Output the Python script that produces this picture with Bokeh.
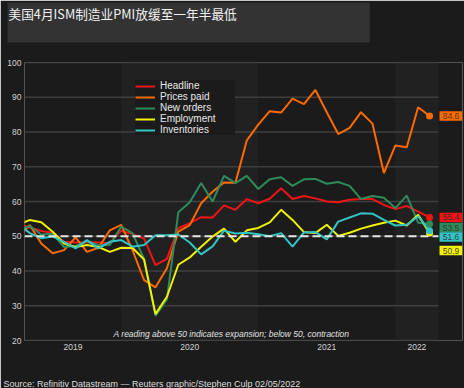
from bokeh.plotting import figure
from bokeh.models import Range1d, FixedTicker, Legend, LegendItem, Title
from bokeh.core.properties import value
from bokeh.embed import file_html
from bokeh.resources import INLINE

# ---------------- data ----------------
title_text = "美国4月ISM制造业PMI放缓至一年半最低"
source_text = "Source: Refinitiv Datastream \u2014 Reuters graphic/Stephen Culp 02/05/2022"
note_text = "A reading above 50 indicates expansion; below 50, contraction"

months = ["2019-04", "2019-05", "2019-06", "2019-07", "2019-08", "2019-09",
          "2019-10", "2019-11", "2019-12",
          "2020-01", "2020-02", "2020-03", "2020-04", "2020-05", "2020-06",
          "2020-07", "2020-08", "2020-09", "2020-10", "2020-11", "2020-12",
          "2021-01", "2021-02", "2021-03", "2021-04", "2021-05", "2021-06",
          "2021-07", "2021-08", "2021-09", "2021-10", "2021-11", "2021-12",
          "2022-01", "2022-02", "2022-03", "2022-04"]

series_names = ["Headline", "Prices paid", "New orders", "Employment", "Inventories"]

headline = [53.6, 52.5, 51.5, 51.0, 48.4, 48.2, 48.3, 48.2, 48.0,
            51.6, 50.6, 49.3, 41.7, 43.5, 52.3, 53.8, 55.5, 55.4, 58.9, 57.6, 60.7,
            59.5, 60.8, 63.8, 60.7, 61.6, 60.9, 60.0, 59.8, 60.5, 60.7, 60.7, 59.0,
            57.8, 58.7, 57.1, 55.4]
prices_paid = [50.0, 53.2, 47.9, 45.1, 46.0, 49.7, 45.5, 46.7, 51.7,
               53.3, 45.9, 37.4, 35.3, 40.8, 51.3, 53.2, 59.5, 62.8, 65.5, 65.4, 77.6,
               82.1, 86.0, 85.6, 89.6, 88.0, 92.1, 85.7, 79.4, 81.2, 85.7, 82.4, 68.2,
               76.1, 75.6, 87.1, 84.6]
new_orders = [52.0, 52.9, 50.5, 50.7, 46.9, 47.2, 48.6, 47.4, 47.5,
              52.8, 50.8, 43.5, 27.1, 31.8, 56.9, 59.8, 65.3, 60.0, 67.4, 65.3, 67.4,
              63.6, 66.4, 67.0, 64.5, 66.4, 66.5, 65.1, 65.6, 64.5, 60.7, 61.6, 61.1,
              58.1, 61.7, 53.9, 53.5]
employment = [53.3, 54.7, 54.0, 51.3, 47.9, 46.9, 47.5, 46.9, 45.5,
              46.7, 46.6, 43.3, 27.6, 32.6, 41.8, 43.9, 47.0, 49.9, 52.2, 48.4, 51.7,
              52.4, 54.0, 57.6, 54.7, 51.2, 50.9, 53.3, 50.1, 51.0, 52.2, 53.1, 53.9,
              54.5, 53.1, 56.2, 50.9]
inventories = [53.4, 50.9, 49.4, 49.9, 48.4, 46.5, 48.9, 46.5, 48.4,
               48.9, 47.0, 47.5, 50.3, 50.3, 50.5, 48.2, 44.8, 47.1, 51.6, 50.8, 51.0,
               50.6, 50.0, 50.9, 47.0, 51.1, 51.2, 49.1, 54.2, 55.4, 56.6, 56.5, 54.7,
               53.1, 53.3, 55.7, 51.6]

y_ticks = [20, 30, 40, 50, 60, 70, 80, 90, 100]
years = [2019, 2020, 2021, 2022]
threshold = 50

# ---------------- styles / layout ----------------
BG = "#1b1b1b"
BAND = "#212121"
GRID = "#3f3f3f"
TXT = "#d2d2d2"
colors = ["#f01414", "#ff6a00", "#2e8c5c", "#f2f200", "#33c4c4"]
series = [headline, prices_paid, new_orders, employment, inventories]

W, H = 464, 388
FRAME_L, FRAME_R = 24, 2
FRAME_W = W - FRAME_L - FRAME_R
FRAME_H = 276.6
PX_PER_MONTH = 11.42


def midx(s):
    y, m = s.split("-")
    return (int(y) - 2019) * 12 + int(m) - 1


xs = [midx(m) for m in months]
x_start = xs[0] + 0.53
grid_end = xs[-1] + 0.78
x_end = x_start + FRAME_W / PX_PER_MONTH
px_per_y = FRAME_H / 80.0

p = figure(width=W, height=H, output_backend="svg", toolbar_location=None,
           title_location=None,
           x_range=Range1d(x_start, x_end), y_range=Range1d(20, 100),
           min_border_left=FRAME_L, min_border_right=FRAME_R,
           min_border_top=0, min_border_bottom=0,
           background_fill_color=BG, border_fill_color=BG, outline_line_color=None)

# ---- top: spacer (next to frame) + title box (outermost)
p.add_layout(Title(text=" ", text_font="Liberation Sans", text_font_size="10px",
                   text_color=BG, standoff=7), "above")
p.add_layout(Title(text=title_text, align="left", offset=-17, standoff=0,
                   text_font="Noto Sans CJK SC", text_font_size="12.7px",
                   text_font_style="normal", text_color="#f2f2f2",
                   background_fill_color="#333333",
                   padding=dict(left=1, right=133, top=1, bottom=20)), "above")

# ---- bottom: axis (auto) + spacer + source line
p.add_layout(Title(text=" ", text_font="Liberation Sans", text_font_size="10px",
                   text_color=BG, standoff=11), "below")
p.add_layout(Title(text=source_text, align="left", offset=-21, standoff=0,
                   text_font="Liberation Sans", text_font_size="9px",
                   text_font_style="normal", text_color="#dedede"), "below")

# year bands
band_l, band_r = [], []
for yr in years:
    lo = max(x_start, (yr - 2019) * 12)
    hi = min(grid_end, (yr - 2019 + 1) * 12)
    if yr % 2 == 0:
        band_l.append(lo)
        band_r.append(hi)
p.quad(left=band_l, right=band_r, bottom=20, top=100, fill_color=BAND, line_color=None)

# gridlines (stop before labels column)
p.segment(x0=[x_start] * len(y_ticks), x1=[grid_end] * len(y_ticks),
          y0=y_ticks, y1=y_ticks, line_color=GRID, line_width=1.6)

renderers = []
for i in range(len(series)):
    r = p.line(xs, series[i], line_color=colors[i], line_width=2)
    renderers.append(r)

# 50 threshold
p.line([x_start, grid_end], [threshold, threshold], line_color="#e6e6e6",
       line_width=2, line_dash="8 4")

# end markers
p.scatter([xs[-1]] * 5, [s[-1] for s in series], size=7, marker="circle",
          fill_color=colors, line_color=None)

# right value labels (nudged apart vertically, in pixels)
label_nudge_px = [0.0, 0.0, 3.4, 17.4, 6.3]  # Headline, Prices, New orders, Employment, Inventories
label_x = x_end - 11.5 / PX_PER_MONTH
label_y = [s[-1] - label_nudge_px[i] / px_per_y for i, s in enumerate(series)]
p.rect(x=[label_x] * 5, y=label_y, width=23, height=9.5, width_units="screen",
       height_units="screen", fill_color=colors, line_color=None)
p.text(x=[label_x] * 5, y=label_y, text=[f"{s[-1]:.1f}" for s in series],
       text_align="center", text_baseline="middle", text_font=value("Liberation Sans"),
       text_font_size="8.5px", text_color="#2a2a2a", text_alpha=0.85)

# footnote
p.text(x=[(x_start + grid_end) / 2], y=[20 + 6.8 / px_per_y], text=[note_text],
       text_align="center", text_baseline="middle", text_font=value("Liberation Sans"),
       text_font_size="8.5px", text_font_style="italic", text_color="#e2e2e2")

# legend
legend = Legend(items=[LegendItem(label=series_names[i], renderers=[renderers[i]])
                       for i in range(len(series))],
                location=(111, 205), background_fill_color=BG, background_fill_alpha=1.0,
                border_line_color=None, label_text_color="#e8e8e8",
                label_text_font="Liberation Sans", label_text_font_size="10px",
                glyph_width=20, glyph_height=10, label_height=10, spacing=0,
                padding=5, margin=0, label_standoff=5, label_width=75)
p.add_layout(legend)

# axes
p.xgrid.grid_line_color = None
p.ygrid.grid_line_color = None
year_ticks = []
overrides = {}
for yr in years:
    lo = max(x_start, (yr - 2019) * 12)
    hi = min(grid_end, (yr - 2019 + 1) * 12)
    t = round((lo + hi) / 2, 2)
    year_ticks.append(t)
    overrides[t] = str(yr)
p.xaxis.ticker = FixedTicker(ticks=year_ticks)
p.xaxis.major_label_overrides = overrides
p.yaxis.ticker = FixedTicker(ticks=y_ticks)
for ax in (p.xaxis, p.yaxis):
    ax.axis_line_color = None
    ax.major_tick_line_color = None
    ax.minor_tick_line_color = None
    ax.major_tick_out = 0
    ax.major_tick_in = 0
    ax.major_label_text_color = TXT
    ax.major_label_text_font = "Liberation Sans"
    ax.major_label_text_font_size = "8.5px"
p.xaxis.major_label_standoff = 3
p.yaxis.major_label_standoff = 3

open("out.html", "w").write(file_html(p, INLINE))
